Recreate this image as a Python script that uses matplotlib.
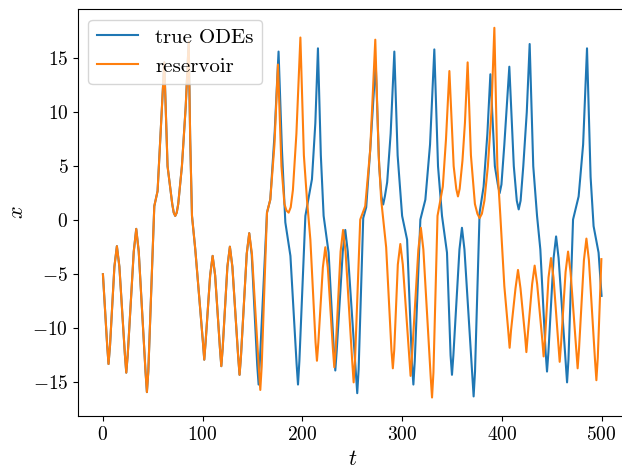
import matplotlib
matplotlib.use("Agg")
from matplotlib import pyplot as plt

# part where both curves coincide
t_common = [0, 4.2, 5.6, 7.1, 11.5, 14.0, 16.5, 22.0, 23.4, 24.9, 30.9, 33.4, 35.9,
            42.7, 44.1, 45.5, 51.5, 54.8, 57.5, 61.5, 64.8, 69.5, 71.0, 72.5, 74.0, 75.5,
            79.2, 83.0, 86.0, 87.5, 89.3, 92.6, 100.2, 101.6, 103.0, 107.5, 110.0, 112.5,
            117.3, 118.7, 120.1, 124.8, 127.3, 129.8, 135.6, 137.0, 138.4, 144.2, 146.7]
x_common = [-5.0, -11.5, -13.3, -11.6, -4.3, -2.4, -4.3, -12.4, -14.1, -12.4, -2.9, -0.8, -2.9,
            -14.0, -15.9, -14.0, 1.3, 2.7, 7.5, 14.6, 5.0, 1.5, 0.7, 0.4, 0.7, 1.5,
            5.0, 10.5, 16.5, 7.5, 0.4, -2.7, -11.2, -12.9, -11.2, -5.1, -3.3, -5.1,
            -11.8, -13.5, -11.8, -4.3, -2.45, -4.3, -12.6, -14.3, -12.6, -3.1, -1.2]

t_true = [149.2, 154.7, 156.1, 157.4, 164.5, 167.8, 172.2, 176.1, 179.5, 182.9, 188.0,
          194.2, 195.6, 197.0, 203.0, 209.6, 213.0, 215.6, 218.5, 221.3, 226.3,
          231.6, 233.0, 234.4, 240.5, 243.0, 245.5, 253.6, 255.0, 256.4,
          261.0, 264.0, 268.0, 273.5, 277.0, 279.3, 281.0, 282.7, 285.0, 288.5,
          292.2, 295.5, 300.0, 305.0, 309.9, 311.3, 312.7, 318.3, 323.3, 328.0, 332.3,
          336.0, 340.0, 345.0, 348.6, 350.0, 351.4, 357.5, 360.0, 362.5, 370.3, 371.7, 373.1,
          377.7, 381.7, 385.5, 388.5, 393.0, 396.0, 397.8, 399.6, 402.5, 407.5, 412.0,
          415.0, 416.9, 418.8, 421.5, 425.0, 427.9, 431.5, 435.3, 438.6,
          443.9, 445.3, 446.7, 451.9, 454.4, 456.9, 464.0, 465.4, 466.8,
          471.4, 477.0, 481.5, 485.4, 489.0, 492.0, 497.0, 500.0]
x_true = [-3.2, -13.4, -15.2, -13.0, 0.7, 1.9, 8.1, 15.6, 6.5, -0.2, -3.3,
          -13.3, -15.2, -13.0, 0.4, 3.8, 9.0, 15.9, 6.0, 0.4, -3.0,
          -12.1, -13.9, -12.1, -2.9, -0.9, -2.9, -14.0, -16.0, -13.8,
          0.2, 1.2, 6.5, 14.6, 5.0, 2.2, 1.45, 2.2, 3.5, 8.0,
          15.6, 6.0, 0.4, -1.8, -13.3, -15.2, -13.0, 0.06, 1.9, 7.0, 15.8,
          5.0, 0.4, -3.0, -12.5, -14.3, -12.5, -2.7, -0.7, -2.7, -14.3, -16.3, -14.0,
          0.7, 3.1, 8.0, 13.5, 5.0, 3.3, 2.5, 3.3, 7.0, 14.2, 5.0,
          1.8, 1.0, 1.8, 5.0, 10.0, 16.3, 5.0, 0.4, -2.7,
          -12.2, -14.0, -12.2, -3.5, -1.5, -3.5, -13.1, -15.0, -12.9,
          0.06, 2.2, 7.0, 15.9, 4.0, -0.55, -3.0, -7.0]

t_res = [149.4, 156.4, 157.8, 159.2, 164.5, 167.8, 172.0, 175.5, 179.0, 182.0, 184.0, 186.2,
         188.3, 190.5, 194.0, 198.0, 201.5, 204.6, 208.0, 213.2, 214.6, 216.0,
         220.5, 223.0, 225.5, 230.6, 232.0, 233.4, 238.3, 240.8, 243.3, 250.0, 251.4, 252.8,
         258.0, 263.0, 268.0, 273.1, 276.5, 279.0, 284.0, 289.3, 290.7, 292.1,
         295.7, 298.2, 300.7, 307.1, 308.5, 309.9, 316.3, 318.8, 321.3, 328.6, 330.0, 331.4,
         335.5, 340.8, 344.0, 347.4, 351.7, 354.3, 356.0, 357.7, 360.5, 363.0, 365.7, 369.0,
         373.0, 375.5, 377.7, 380.0, 382.5, 386.0, 389.5, 392.5, 395.5, 398.5, 402.5,
         406.4, 407.8, 409.2, 413.7, 416.2, 418.7, 423.2, 424.6, 426.0,
         430.4, 432.9, 435.4, 440.5, 441.9, 443.3, 446.8, 449.3, 451.8,
         456.6, 458.0, 459.4, 463.9, 466.4, 468.9, 474.6, 476.0, 477.4,
         482.3, 484.8, 487.3, 493.4, 494.8, 496.2, 499.8]
x_res = [-3.1, -13.8, -15.7, -13.5, 0.7, 1.9, 7.0, 14.4, 5.0, 1.5, 0.9, 0.7,
         1.2, 2.8, 8.0, 16.9, 6.0, 1.9, -1.8, -11.3, -13.0, -11.3,
         -4.4, -2.5, -4.4, -11.9, -13.6, -11.9, -2.9, -0.9, -2.9, -13.1, -15.0, -12.9,
         0.06, 1.3, 6.5, 16.7, 6.0, 1.9, -2.5, -12.0, -13.7, -12.0,
         -4.1, -2.2, -4.1, -12.6, -14.4, -12.6, -2.7, -0.7, -2.7, -14.4, -16.4, -14.1,
         0.4, 3.1, 7.5, 13.8, 5.0, 2.9, 2.2, 2.9, 5.5, 9.0, 14.6, 6.0,
         1.5, 0.6, 0.2, 0.6, 1.8, 5.0, 10.0, 17.8, 5.0, 0.4, -6.1,
         -10.2, -11.8, -10.2, -6.3, -4.6, -6.3, -10.6, -12.2, -10.6,
         -5.9, -4.2, -5.9, -11.0, -12.6, -11.0, -5.3, -3.5, -5.3,
         -11.4, -13.1, -11.4, -4.8, -2.9, -4.8, -11.9, -13.7, -11.9,
         -3.7, -1.7, -3.7, -12.9, -14.8, -12.7, -3.6]

plt.rcParams['font.family'] = 'serif'
plt.rcParams['font.serif'] = ['cmr10']
plt.rcParams['mathtext.fontset'] = 'cm'
plt.rcParams['axes.formatter.use_mathtext'] = True
plt.rcParams['font.size'] = 14

fig = plt.figure(figsize=(6.22, 4.70), dpi=100)
ax = fig.add_axes([78 / 622, 1 - 416 / 470, (626.5 - 78) / 622, (416 - 9.3) / 470])

ax.plot(t_common + t_true, x_common + x_true, color='C0', label='true ODEs')
ax.plot(t_common + t_res, x_common + x_res, color='C1', label='reservoir')
ax.set_xlabel('$t$', fontsize=16)
ax.set_ylabel('$x$', fontsize=16)
ax.set_xticks([0, 100, 200, 300, 400, 500])
ax.set_yticks([-15, -10, -5, 0, 5, 10, 15])
ax.legend(loc='upper left', fontsize=15)

fig.savefig('out.png', dpi=100)
